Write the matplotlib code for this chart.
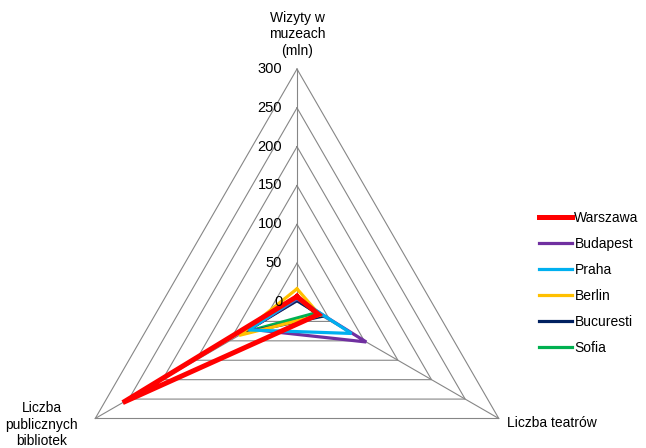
import matplotlib.pyplot as plt
import numpy as np

plt.rcParams['font.family'] = ['Liberation Sans', 'DejaVu Sans']

# radar axes, clockwise from the top
categories = ['Wizyty w\nmuzeach\n(mln)', 'Liczba teatrów', 'Liczba\npublicznych\nbibliotek']
ticks = [0, 50, 100, 150, 200, 250, 300]

cities = ['Warszawa', 'Budapest', 'Praha', 'Berlin', 'Bucuresti', 'Sofia']
warszawa = [7, 32, 259]
budapest = [4, 103, 70]
praha = [5, 81, 72]
berlin = [17, 34, 86]
bucuresti = [2, 37, 80]
sofia = [4, 28, 78]
series = [warszawa, budapest, praha, berlin, bucuresti, sofia]

colors = ['#FF0000', '#7030A0', '#00B0F0', '#FFC000', '#002060', '#00B050']
widths = [3.6, 2.3, 2.3, 2.3, 2.3, 2.3]
zorders = [6, 4, 5, 4.5, 3, 2]

angles = np.deg2rad([90, -30, 210])


def to_xy(values):
    v = np.append(values, values[0])
    a = np.append(angles, angles[0])
    return v * np.cos(a), v * np.sin(a)


W, H = 646, 448
scale = 233 / 300          # pixels per unit
cx, cy = 297, 302          # centre in pixels (from top-left)

fig = plt.figure(figsize=(W / 100, H / 100), dpi=100)
ax = fig.add_axes([0, 0, 1, 1])
ax.set_xlim(-cx / scale, (W - cx) / scale)
ax.set_ylim(-(H - cy) / scale, cy / scale)
ax.set_aspect('equal')
ax.axis('off')

grid_color = '#868686'
rmax = ticks[-1]
for t in ticks[1:]:
    x, y = to_xy([t] * 3)
    ax.plot(x, y, color=grid_color, lw=0.8, zorder=1)
for a in angles:
    ax.plot([0, rmax * np.cos(a)], [0, rmax * np.sin(a)], color=grid_color, lw=0.8, zorder=1)

for t in ticks:
    ax.text(-19, t, str(t), ha='right', va='center', fontsize=10.5, zorder=10)

for name, vals, c, lw, z in zip(cities, series, colors, widths, zorders):
    x, y = to_xy(vals)
    ax.plot(x, y, color=c, lw=lw, label=name, zorder=z, solid_joinstyle='miter')

# category labels around the outer ring
ax.text(0, rmax + 14, categories[0], ha='center', va='bottom', fontsize=10, linespacing=1.25)
rx, ry = rmax * np.cos(angles[1]), rmax * np.sin(angles[1])
ax.text(rx + 11, ry - 6, categories[1], ha='left', va='center', fontsize=10)
lx, ly = rmax * np.cos(angles[2]), rmax * np.sin(angles[2])
ax.text(lx - 69, ly - 8, categories[2], ha='center', va='center', fontsize=10, linespacing=1.25)

handles, labels = ax.get_legend_handles_labels()
fig.legend(handles, labels, loc='center left', bbox_to_anchor=(539 / W, 1 - 283 / H),
           frameon=False, fontsize=10, handlelength=2.4, handletextpad=0.15,
           labelspacing=0.87, borderpad=0, borderaxespad=0)

fig.savefig('out.png', dpi=100)
